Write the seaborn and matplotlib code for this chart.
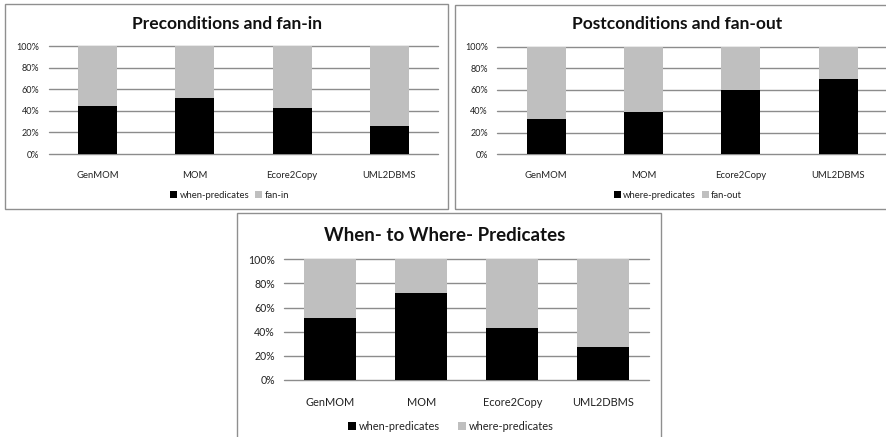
import matplotlib
matplotlib.use("Agg")
import matplotlib.pyplot as plt
from matplotlib.patches import Rectangle, Patch
import seaborn as sns
import pandas as pd

# Transformations compared in each panel
categories = ["GenMOM", "MOM", "Ecore2Copy", "UML2DBMS"]

# Panel 1: preconditions vs fan-in (share of total, %)
pre_when = [44.4, 51.5, 42.9, 25.9]
pre_fanin = [55.6, 48.5, 57.1, 74.1]

# Panel 2: postconditions vs fan-out (share of total, %)
post_where = [32.3, 39.4, 60.0, 69.6]
post_fanout = [67.7, 60.6, 40.0, 30.4]

# Panel 3: when- vs where-predicates (share of total, %)
ww_when = [51.6, 72.3, 42.8, 27.6]
ww_where = [48.4, 27.7, 57.2, 72.4]

y_ticks = [0, 20, 40, 60, 80, 100]
y_tick_labels = ["0%", "20%", "40%", "60%", "80%", "100%"]

W, H = 887, 437
BLACK = "#000000"
GRAY = "#bfbfbf"
GRID = "#8c8c8c"
FRAME = "#8f8f8f"

sns.set_theme(style="white")
plt.rcParams["font.family"] = ["Lato", "DejaVu Sans"]

fig = plt.figure(figsize=(W / 100, H / 100), dpi=100)


def px_axes(left, right, top, bottom):
    return fig.add_axes([left / W, 1 - bottom / H, (right - left) / W, (bottom - top) / H])


def frame(x0, y0, x1, y1):
    fig.add_artist(Rectangle((x0 / W, 1 - y1 / H), (x1 - x0) / W, (y1 - y0) / H,
                             transform=fig.transFigure, fill=False,
                             edgecolor=FRAME, linewidth=1.0))


def panel(ax, lower, upper, lower_name, upper_name, title, title_xy, title_size,
          bar_width, tick_size, cat_pad, legend_xy, col_space):
    df = pd.DataFrame({"cat": categories,
                       "lower": lower,
                       "top": [a + b for a, b in zip(lower, upper)]})
    sns.barplot(data=df, x="cat", y="top", color=GRAY, width=bar_width,
                saturation=1, ax=ax, zorder=2, linewidth=0, edgecolor="none")
    sns.barplot(data=df, x="cat", y="lower", color=BLACK, width=bar_width,
                saturation=1, ax=ax, zorder=3, linewidth=0, edgecolor="none")
    ax.set_ylim(0, 100)
    ax.set_xlim(-0.5, len(categories) - 0.5)
    ax.set_yticks(y_ticks)
    ax.set_yticklabels(y_tick_labels)
    ax.set_xlabel("")
    ax.set_ylabel("")
    for s in ax.spines.values():
        s.set_visible(False)
    ax.set_facecolor("none")
    ax.tick_params(axis="y", length=0, pad=7, labelsize=tick_size, labelcolor="#222222")
    ax.tick_params(axis="x", length=0, pad=cat_pad, labelsize=tick_size + 0.3,
                   labelcolor="#222222")
    for yv in y_ticks:
        ax.axhline(yv, color=GRID, linewidth=1.0, zorder=1, clip_on=False)
    fig.text(title_xy[0] / W, 1 - title_xy[1] / H, title, ha="center", va="center",
             fontsize=title_size, fontweight="bold", color="#111111")
    handles = [Patch(facecolor=BLACK, edgecolor="none", label=lower_name),
               Patch(facecolor=GRAY, edgecolor="none", label=upper_name)]
    fig.legend(handles=handles, loc="center",
               bbox_to_anchor=(legend_xy[0] / W, 1 - legend_xy[1] / H),
               ncol=2, frameon=False, fontsize=tick_size + 0.3,
               handlelength=0.75, handleheight=0.75, handletextpad=0.25,
               columnspacing=col_space, labelcolor="#222222")


# Panel frames
frame(5, 4, 448, 208.5)
frame(455, 4.5, 900, 209)
frame(237, 213, 661, 450)

ax1 = px_axes(49, 438, 46, 154)
panel(ax1, pre_when, pre_fanin, "when-predicates", "fan-in",
      "Preconditions and fan-in", (227, 24), 12.5, 0.4, 6.5, 12.5, (229.5, 195), 0.6)

ax2 = px_axes(497.5, 887, 46.5, 154)
panel(ax2, post_where, post_fanout, "where-predicates", "fan-out",
      "Postconditions and fan-out", (677, 24), 12.5, 0.4, 6.5, 12.5, (678, 195), 0.6)

ax3 = px_axes(284.5, 649, 259.3, 380)
panel(ax3, ww_when, ww_where, "when-predicates", "where-predicates",
      "When- to Where- Predicates", (445, 235), 13.5, 0.57, 7.6, 12, (451, 426), 1.6)

fig.savefig("out.png", dpi=100)
